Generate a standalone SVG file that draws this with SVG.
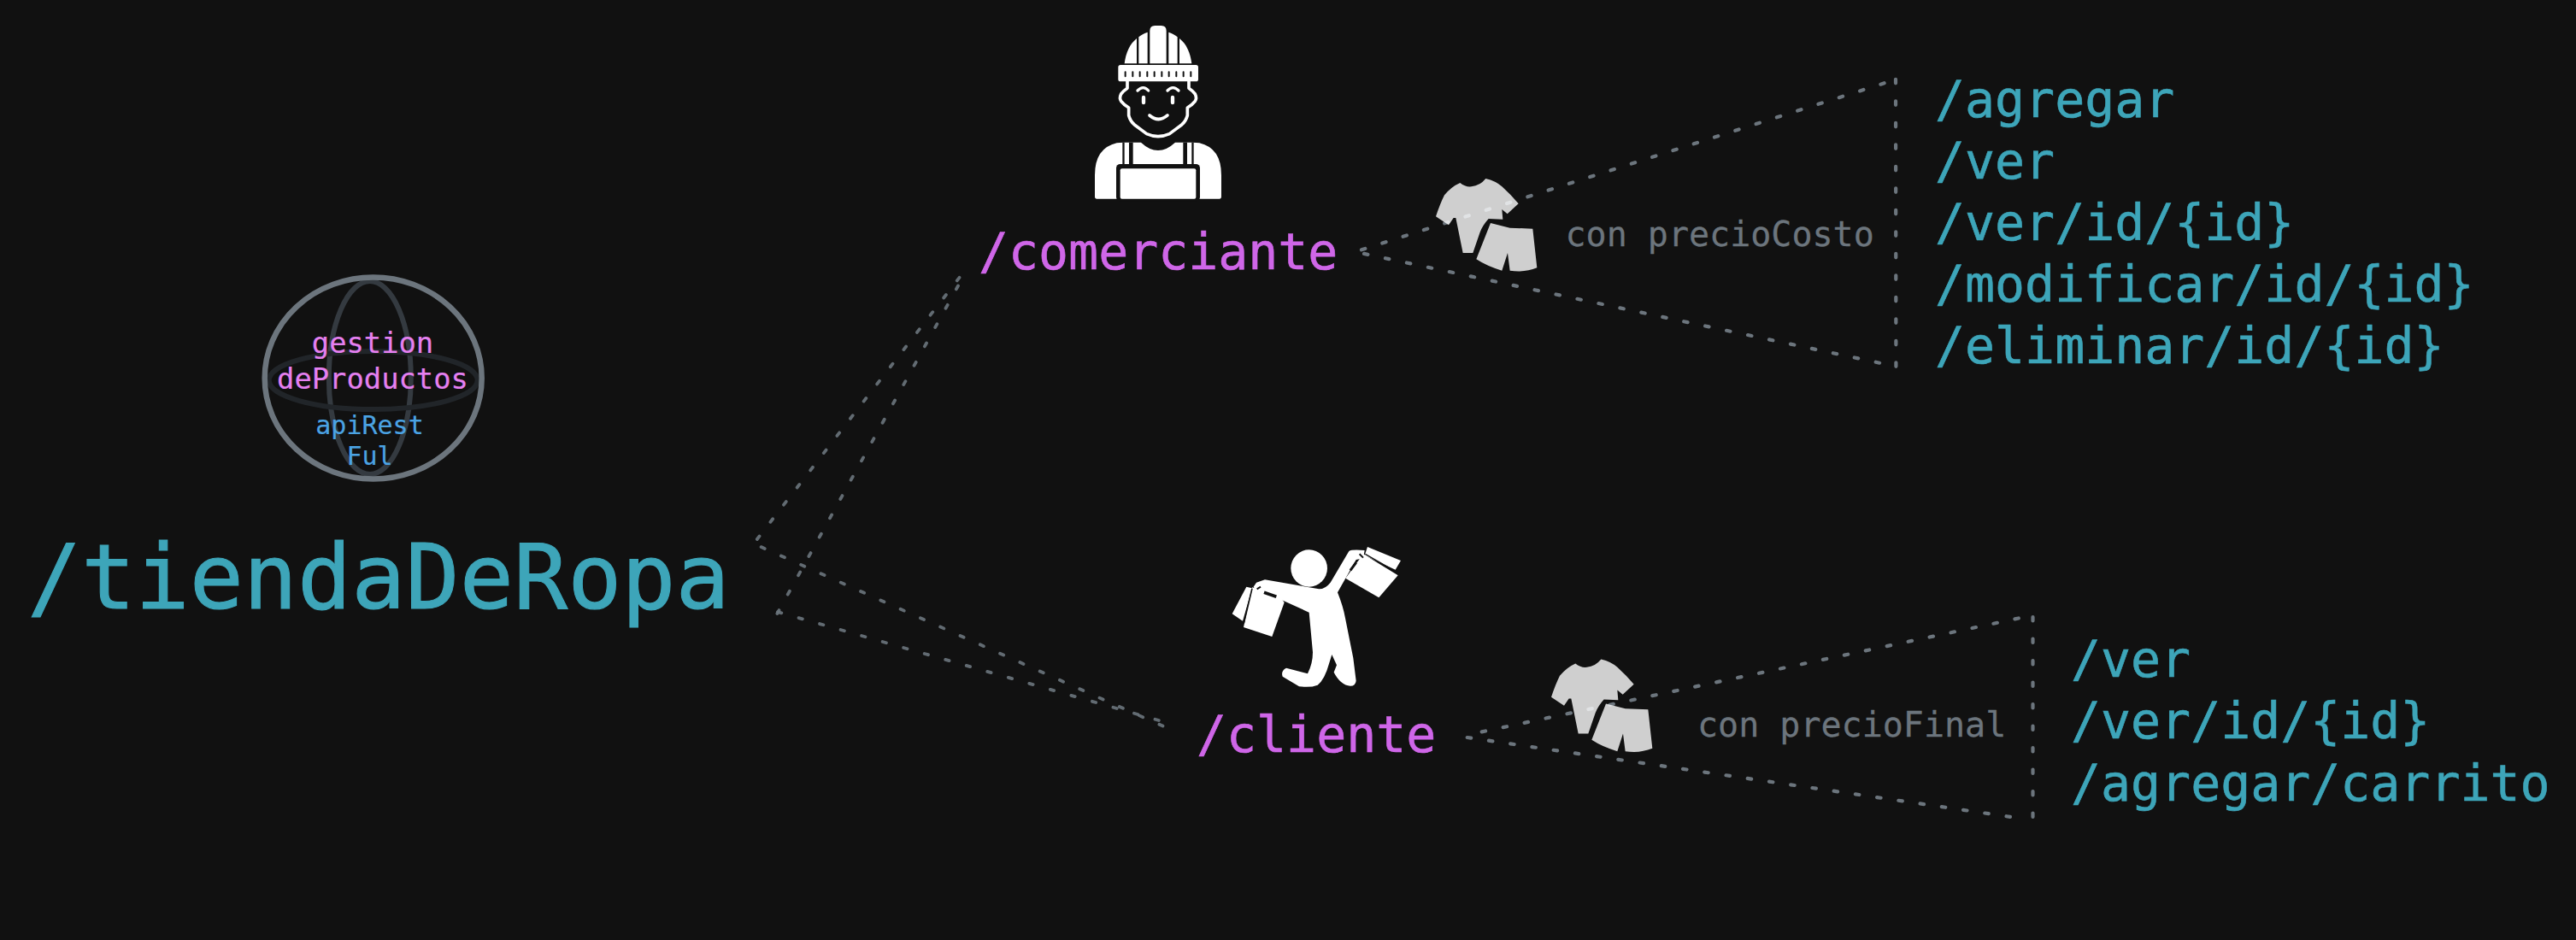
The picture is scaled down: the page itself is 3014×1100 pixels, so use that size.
<svg xmlns="http://www.w3.org/2000/svg" xmlns:xlink="http://www.w3.org/1999/xlink" width="3014" height="1100" viewBox="0 0 3014 1100">
<style>
text{font-family:"DejaVu Sans Mono","Liberation Mono",monospace}
.teal{fill:#3da5b9;stroke:#3da5b9}
.purple{fill:#cf66e8;stroke:#cf66e8}
.gray{fill:#6c757d;stroke:#6c757d;stroke-width:.3;font-size:40px}
.big{font-size:58.2px;stroke-width:.6}
.root{font-size:105px;stroke-width:1.1}
.pink{fill:#e580f0;stroke:#e580f0;stroke-width:.2;font-size:33.8px;text-anchor:middle}
.blue{fill:#4ba3e3;stroke:#4ba3e3;stroke-width:.2;font-size:30px;text-anchor:middle}
.dash{fill:none;stroke:#6c757d;stroke-width:4.2;stroke-linecap:round;stroke-dasharray:4.5 21}
.dim{stroke-width:3.8;opacity:.9}
.w{fill:#fff}
.k{fill:#111}
.wl{fill:none;stroke:#fff;stroke-linecap:round;stroke-linejoin:round}
.kl{fill:none;stroke:#111}
</style>
<defs>
<g id="clothes" fill="#fff" opacity=".8">
<path d="M115 42Q135 58 155 55Q185 52 205 27Q240 35 262 55Q295 85 320 115L281 151L262 135L265 170L215 168Q195 190 185 215L160 288L125 288L100 165L92 165L75 190L30 160Q45 115 60 85Q85 55 115 42Z"/>
<path d="M222 183L290 200L370 203L385 340Q340 358 290 350L282 288L262 350Q210 335 172 310Z"/>
</g>
</defs>
<rect width="3014" height="1100" fill="#111"/>
<g id="connectors">
<path class="dash dim" d="M1122.5 324.8L883.5 634"/>
<path class="dash dim" d="M890.6 640.1L1363 850.7"/>
<path class="dash dim" d="M1121 334.5L908.5 719.6"/>
<path class="dash dim" d="M910 716.1L1358 843.6"/>
<path class="dash" d="M1593 292.3L2208 96.2"/>
<path class="dash" d="M1596 296.9L2202 425.3"/>
<path class="dash" d="M2218 92.8L2218.4 430"/>
<path class="dash" d="M1733.7 856.4L2365 722.8"/>
<path class="dash" d="M1716.7 863L2355 956.3"/>
<path class="dash" d="M2378.5 722L2378.5 957"/>
</g>
<g id="api-globe">
<ellipse cx="432.8" cy="442" rx="48" ry="113" fill="none" stroke="#343a40" stroke-width="6"/>
<ellipse cx="436.7" cy="445" rx="122" ry="34" fill="none" stroke="#212529" stroke-width="6"/>
<ellipse cx="436.7" cy="442.5" rx="127" ry="118" fill="none" stroke="#6c757d" stroke-width="6.5"/>
<text class="pink" x="436" y="412.5">gestion</text>
<text class="pink" x="436" y="454.5">deProductos</text>
<text class="blue" x="432.5" y="507.5">apiRest</text>
<text class="blue" x="432.5" y="544">Ful</text>
</g>
<g id="root">
<text class="teal root" x="32" y="711.7">/tiendaDeRopa</text>
</g>
<g id="comerciante">
<g transform="translate(1270 20) scale(.3333)">
<path class="w" d="M137 163C142 125 155 95 180 75V163Z"/>
<path class="w" d="M187 70C197 62 207 57 218 53V163H187Z"/>
<path class="w" d="M226 163V48Q226 30 244 30H266Q284 30 284 48V163Z"/>
<path class="w" d="M292 53C303 57 313 62 323 70V163H292Z"/>
<path class="w" d="M330 75C355 95 368 125 373 163H330Z"/>
<rect class="w" x="115" y="168" width="281" height="58" rx="8"/>
<path class="kl" stroke-width="6" stroke-linecap="round" d="M140 193V208M166 193V208M191 193V208M217 193V208M242 193V208M268 193V208M293 193V208M319 193V208M344 193V208M370 193V208"/>
<path class="wl" stroke-width="11" d="M147 226V250Q135 258 125 270Q118 285 125 295Q135 308 152 318V345Q157 365 172 378L215 410Q255 428 295 410L338 378Q353 365 358 345V318Q375 308 385 295Q392 285 385 270Q375 258 363 250V226"/>
<path class="wl" stroke-width="10" d="M183 258Q203 238 221 258M288 258Q307 238 327 258"/>
<path class="wl" stroke-width="13" d="M204 282V300M306 282V300"/>
<path class="wl" stroke-width="11" d="M225 345Q257 372 288 345"/>
<path class="w" d="M40 638Q33 638 33 630V555Q33 460 110 442Q120 440 137 440H195Q225 468 255 468Q285 468 315 440H373Q390 440 400 442Q477 460 477 555V630Q477 638 470 638Z"/>
<path class="k" d="M130 440h7v80h-7zM153 440h14v80h-14zM373 440h7v80h-7zM343 440h14v80h-14z"/>
<rect class="k" x="108" y="516" width="294" height="130" rx="14"/>
<rect class="w" x="122" y="532" width="266" height="106" rx="6"/>
</g>
<text class="purple big" x="1145" y="315">/comerciante</text>
</g>
<g id="clothes-comerciante">
<use xlink:href="#clothes" href="#clothes" transform="translate(1670 200) scale(.3333)"/>
<text class="gray" x="1831.5" y="287.7">con precioCosto</text>
</g>
<g id="rutas-comerciante">
<text class="teal big" x="2264" y="136.7">/agregar</text>
<text class="teal big" x="2264" y="208.7">/ver</text>
<text class="teal big" x="2264" y="280.7">/ver/id/{id}</text>
<text class="teal big" x="2264" y="352.7">/modificar/id/{id}</text>
<text class="teal big" x="2264" y="424.7">/eliminar/id/{id}</text>
</g>
<g id="cliente">
<g transform="translate(1430 630) scale(.3333)">
<path class="w" d="M85 170L105 175L72 290L35 265Z"/>
<path class="w" d="M105 172L200 200L218 225L175 345L75 312Z"/>
<path class="kl" stroke-width="5" d="M105 176L76 298"/>
<path class="w" d="M510 30L627 78L608 110L500 60Z"/>
<path class="w" d="M495 55L617 130L550 208L433 140Z"/>
<path class="kl" stroke-width="4" d="M502 55L612 118"/>
<ellipse class="w" cx="305" cy="105" rx="64" ry="65"/>
<path class="w" d="M150 145L340 178Q362 178 380 155L445 45Q455 38 500 42L495 70L470 75L405 190Q425 240 432 280L460 420L470 500Q468 518 450 518Q415 515 392 470L402 445L385 408L375 440Q360 495 335 515Q310 525 270 520L212 485Q205 465 225 455L300 475Q318 440 318 400L305 260L200 212L120 185L110 170L120 155Z"/>
<path class="kl" stroke-width="11" d="M147 190L190 205"/>
<path class="kl" stroke-width="9" d="M470 85L450 112"/>
<path class="kl" stroke-width="6" d="M482 55L495 68M122 178L135 170"/>
</g>
<text class="purple big" x="1400" y="880">/cliente</text>
</g>
<g id="clothes-cliente">
<use xlink:href="#clothes" href="#clothes" transform="translate(1805 762.5) scale(.3333)"/>
<text class="gray" x="1986" y="861.7">con precioFinal</text>
</g>
<g id="rutas-cliente">
<text class="teal big" x="2423" y="792.3">/ver</text>
<text class="teal big" x="2423" y="864.3">/ver/id/{id}</text>
<text class="teal big" x="2423" y="936.7">/agregar/carrito</text>
</g>
</svg>
